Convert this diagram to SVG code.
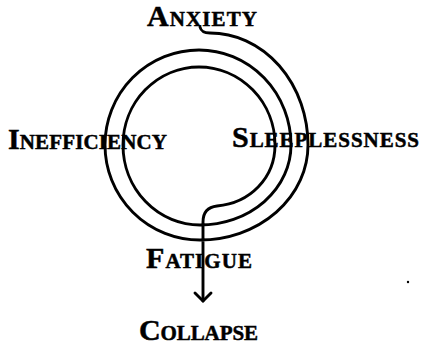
<svg xmlns="http://www.w3.org/2000/svg" width="425" height="345" viewBox="0 0 425 345">
  <style>
    .lbl { font-family: "Liberation Serif", "Times New Roman", serif; font-weight: bold; font-variant: small-caps; font-size: 30px; fill: #000; stroke: #000; stroke-width: 0.5; }
    .line { fill: none; stroke: #000; stroke-width: 2.9; stroke-linecap: round; stroke-linejoin: round; }
  </style>
  <defs>
    <marker id="arrow" markerUnits="userSpaceOnUse" markerWidth="24" markerHeight="24" viewBox="-12 -12 24 24" refX="0" refY="0" orient="auto">
      <path d="M -8 -8 L 0 0 L -8 8" fill="none" stroke="#000" stroke-width="2.9" stroke-linecap="round" stroke-linejoin="round"/>
    </marker>
  </defs>
  <rect width="425" height="345" fill="#fff"/>
  <g id="connectors">
    <path class="line" marker-end="url(#arrow)" d="M 200 27 C 201 31 203 33 210 33 A 98 112 0 0 1 308 145 A 108 95 0 0 1 200 240 A 95 95 0 0 1 105 145 A 94 95 0 0 1 199 50 A 92 95 0 0 1 291 145 A 91 80 0 0 1 200 225 A 77 80 0 0 1 123 145 A 76 78 0 0 1 199 67 A 76 78 0 0 1 275 145 C 275 178 250 203 217 206 C 208 207 203 212 203 222 L 203 301"/>
  </g>
  <g id="anxiety"><text class="lbl" x="147" y="26" textLength="110" lengthAdjust="spacing">Anxiety</text></g>
  <g id="inefficiency"><text class="lbl" x="8" y="149" textLength="159" lengthAdjust="spacing">Inefficiency</text></g>
  <g id="sleeplessness"><text class="lbl" x="232" y="147" textLength="187" lengthAdjust="spacing">Sleeplessness</text></g>
  <g id="fatigue"><text class="lbl" x="146" y="268" textLength="106" lengthAdjust="spacing">Fatigue</text></g>
  <g id="collapse"><text class="lbl" x="139" y="340" textLength="119" lengthAdjust="spacing">Collapse</text></g>
  <circle cx="408" cy="282" r="1.2" fill="#000"/>
</svg>
